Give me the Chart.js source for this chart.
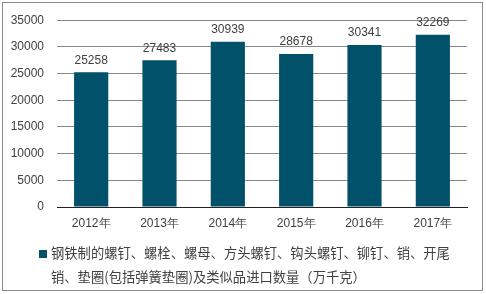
<!DOCTYPE html>
<html><head><meta charset="utf-8">
<script src="https://cdn.jsdelivr.net/npm/chart.js@4.4.0/dist/chart.umd.min.js"></script>
<style>
html,body{margin:0;padding:0;background:#fff;}
#wrap{position:relative;width:486px;height:294px;overflow:hidden;}
#legend{position:absolute;left:39px;top:241px;display:flex;align-items:flex-start;font-family:"Noto Sans CJK SC","Noto Sans",sans-serif;font-size:13.3px;line-height:24px;color:#404040;}
#legend .box{width:8px;height:8px;margin-top:9px;margin-right:4px;flex:none;}
#legend .txt{width:410px;}
</style></head><body>
<div id="wrap"><canvas id="c" width="486" height="294"></canvas><div id="legend"></div></div>
<script>
const categories = ['2012年', '2013年', '2014年', '2015年', '2016年', '2017年'];
const values = [25258, 27483, 30939, 28678, 30341, 32269];
const seriesName = '钢铁制的螺钉、螺栓、螺母、方头螺钉、钩头螺钉、铆钉、销、开尾销、垫圈(包括弹簧垫圈)及类似品进口数量（万千克）';
const yMin = 0, yMax = 35000, yStep = 5000;

const barColor = '#02516b';
const textColor = '#404040';
const gridColor = '#878787';

const frame = {
  id: 'frame',
  beforeDraw(chart) {
    const ctx = chart.ctx;
    ctx.save();
    ctx.strokeStyle = '#8a8a8a';
    ctx.lineWidth = 1;
    ctx.strokeRect(2.5, 2.5, 480, 288);
    ctx.restore();
  }
};

const valueLabels = {
  id: 'valueLabels',
  afterDatasetsDraw(chart) {
    const ctx = chart.ctx;
    ctx.save();
    ctx.font = '12px "Liberation Sans", Arial, sans-serif';
    ctx.fillStyle = textColor;
    ctx.textAlign = 'center';
    ctx.textBaseline = 'middle';
    chart.data.datasets.forEach((ds, i) => {
      chart.getDatasetMeta(i).data.forEach((bar, j) => {
        ctx.fillText(String(ds.data[j]), bar.x, bar.y - 12);
      });
    });
    ctx.restore();
  }
};

const chart = new Chart(document.getElementById('c'), {
  type: 'bar',
  data: {
    labels: categories,
    datasets: [{
      label: seriesName,
      data: values,
      backgroundColor: barColor,
      categoryPercentage: 1,
      barPercentage: 0.5
    }]
  },
  options: {
    responsive: false,
    animation: false,
    devicePixelRatio: 1,
    layout: { padding: { left: 0, right: 19, top: 17, bottom: 57 } },
    plugins: { legend: { display: false }, tooltip: { enabled: false } },
    scales: {
      x: {
        grid: { display: false, drawTicks: false },
        border: { display: true, color: '#222', width: 1 },
        ticks: { color: textColor, font: { family: '"Liberation Sans", Arial, sans-serif', size: 12 }, padding: 9, maxRotation: 0 },
        afterFit(s) { s.height = 30; }
      },
      y: {
        min: yMin, max: yMax,
        grid: { drawTicks: false, color: (c) => c.tick && c.tick.value === 0 ? 'rgba(0,0,0,0)' : gridColor },
        border: { display: false },
        ticks: { stepSize: yStep, color: textColor, font: { family: '"Liberation Sans", Arial, sans-serif', size: 12 }, padding: 13, callback: (v) => String(v) },
        afterFit(s) { s.width = 57; }
      }
    }
  },
  plugins: [frame, valueLabels]
});

const lg = document.getElementById('legend');
const box = document.createElement('div');
box.className = 'box';
box.style.background = chart.data.datasets[0].backgroundColor;
const txt = document.createElement('div');
txt.className = 'txt';
txt.textContent = chart.data.datasets[0].label;
lg.appendChild(box); lg.appendChild(txt);
</script>
</body></html>
